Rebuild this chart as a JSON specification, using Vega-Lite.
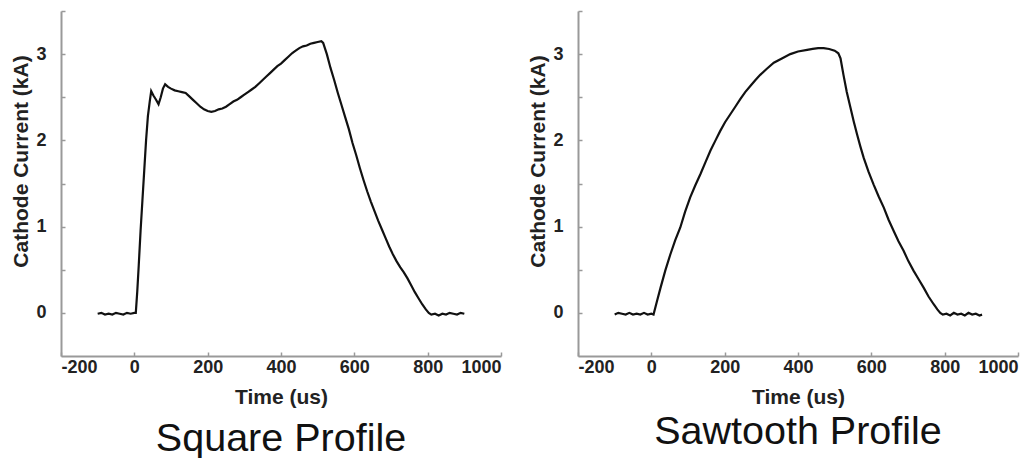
{
  "$schema": "https://vega.github.io/schema/vega-lite/v6.json",
  "background": "white",
  "padding": {"left": 10, "top": 10, "right": 5, "bottom": 0},
  "spacing": 77,
  "bounds": "flush",
  "config": {
    "view": {"stroke": null},
    "axis": {
      "grid": false,
      "domainColor": "#999999",
      "domainWidth": 2,
      "tickColor": "#999999",
      "tickWidth": 1.5,
      "tickSize": -4,
      "labelFont": "Liberation Sans",
      "labelFontWeight": "bold",
      "labelFontSize": 18,
      "labelColor": "#222222",
      "titleFont": "Liberation Sans",
      "titleFontWeight": "bold",
      "titleFontSize": 21,
      "titleColor": "#222222"
    },
    "axisX": {"labelPadding": 6, "titlePadding": 10},
    "axisY": {"labelPadding": 19, "titlePadding": 4}
  },
  "datasets": {
    "square": [
      {"t": -100, "i": -0.01}, {"t": -90, "i": 0.0}, {"t": -80, "i": -0.02}, {"t": -70, "i": -0.01},
      {"t": -60, "i": -0.02}, {"t": -50, "i": 0.0}, {"t": -40, "i": -0.01}, {"t": -30, "i": -0.02},
      {"t": -20, "i": 0.0}, {"t": -10, "i": -0.01}, {"t": 0, "i": 0.0}, {"t": 4, "i": 0.0},
      {"t": 8, "i": 0.25}, {"t": 12, "i": 0.55}, {"t": 17, "i": 0.95}, {"t": 22, "i": 1.3},
      {"t": 27, "i": 1.65}, {"t": 32, "i": 2.0}, {"t": 37, "i": 2.28}, {"t": 42, "i": 2.45},
      {"t": 46, "i": 2.57}, {"t": 52, "i": 2.52}, {"t": 58, "i": 2.48}, {"t": 66, "i": 2.42},
      {"t": 72, "i": 2.5}, {"t": 78, "i": 2.6}, {"t": 84, "i": 2.65}, {"t": 92, "i": 2.62},
      {"t": 100, "i": 2.6}, {"t": 110, "i": 2.58}, {"t": 120, "i": 2.57}, {"t": 130, "i": 2.56},
      {"t": 140, "i": 2.55}, {"t": 150, "i": 2.51}, {"t": 160, "i": 2.47}, {"t": 170, "i": 2.43},
      {"t": 180, "i": 2.39}, {"t": 190, "i": 2.36}, {"t": 200, "i": 2.34}, {"t": 210, "i": 2.33},
      {"t": 220, "i": 2.34}, {"t": 230, "i": 2.36}, {"t": 240, "i": 2.37}, {"t": 250, "i": 2.39},
      {"t": 260, "i": 2.42}, {"t": 270, "i": 2.45}, {"t": 280, "i": 2.47}, {"t": 290, "i": 2.5},
      {"t": 300, "i": 2.53}, {"t": 310, "i": 2.56}, {"t": 320, "i": 2.59}, {"t": 330, "i": 2.62},
      {"t": 340, "i": 2.66}, {"t": 350, "i": 2.7}, {"t": 360, "i": 2.74}, {"t": 370, "i": 2.78},
      {"t": 380, "i": 2.82}, {"t": 390, "i": 2.86}, {"t": 400, "i": 2.89}, {"t": 410, "i": 2.93},
      {"t": 420, "i": 2.97}, {"t": 430, "i": 3.01}, {"t": 440, "i": 3.04}, {"t": 450, "i": 3.07},
      {"t": 460, "i": 3.09}, {"t": 470, "i": 3.1}, {"t": 480, "i": 3.12}, {"t": 490, "i": 3.13},
      {"t": 500, "i": 3.14}, {"t": 510, "i": 3.15}, {"t": 515, "i": 3.13}, {"t": 525, "i": 3.0},
      {"t": 535, "i": 2.84}, {"t": 545, "i": 2.7}, {"t": 555, "i": 2.55}, {"t": 565, "i": 2.41},
      {"t": 575, "i": 2.27}, {"t": 585, "i": 2.13}, {"t": 595, "i": 1.97}, {"t": 605, "i": 1.83},
      {"t": 615, "i": 1.68}, {"t": 625, "i": 1.54}, {"t": 635, "i": 1.41}, {"t": 645, "i": 1.29},
      {"t": 655, "i": 1.18}, {"t": 665, "i": 1.07}, {"t": 675, "i": 0.97}, {"t": 685, "i": 0.87},
      {"t": 695, "i": 0.77}, {"t": 705, "i": 0.68}, {"t": 715, "i": 0.6}, {"t": 725, "i": 0.53},
      {"t": 735, "i": 0.47}, {"t": 745, "i": 0.4}, {"t": 755, "i": 0.32}, {"t": 765, "i": 0.24},
      {"t": 775, "i": 0.17}, {"t": 785, "i": 0.1}, {"t": 795, "i": 0.04}, {"t": 803, "i": 0.0},
      {"t": 810, "i": -0.02}, {"t": 820, "i": -0.01}, {"t": 830, "i": -0.03}, {"t": 840, "i": -0.01},
      {"t": 850, "i": -0.02}, {"t": 860, "i": 0.0}, {"t": 870, "i": -0.01}, {"t": 880, "i": -0.02},
      {"t": 890, "i": 0.0}, {"t": 900, "i": -0.01}
    ],
    "sawtooth": [
      {"t": -100, "i": -0.02}, {"t": -90, "i": 0.0}, {"t": -80, "i": -0.01}, {"t": -70, "i": -0.02},
      {"t": -60, "i": 0.0}, {"t": -50, "i": -0.02}, {"t": -40, "i": -0.01}, {"t": -30, "i": -0.02},
      {"t": -20, "i": 0.0}, {"t": -10, "i": -0.02}, {"t": 0, "i": -0.01}, {"t": 6, "i": -0.02},
      {"t": 15, "i": 0.13}, {"t": 25, "i": 0.29}, {"t": 38, "i": 0.49}, {"t": 52, "i": 0.68},
      {"t": 65, "i": 0.84}, {"t": 79, "i": 0.99}, {"t": 92, "i": 1.17}, {"t": 106, "i": 1.34},
      {"t": 120, "i": 1.48}, {"t": 134, "i": 1.61}, {"t": 148, "i": 1.75}, {"t": 161, "i": 1.88},
      {"t": 175, "i": 2.0}, {"t": 188, "i": 2.11}, {"t": 201, "i": 2.21}, {"t": 215, "i": 2.3},
      {"t": 229, "i": 2.39}, {"t": 243, "i": 2.48}, {"t": 256, "i": 2.56}, {"t": 270, "i": 2.63},
      {"t": 284, "i": 2.7}, {"t": 297, "i": 2.76}, {"t": 315, "i": 2.83}, {"t": 334, "i": 2.9},
      {"t": 356, "i": 2.95}, {"t": 379, "i": 3.0}, {"t": 400, "i": 3.03}, {"t": 425, "i": 3.05},
      {"t": 440, "i": 3.06}, {"t": 455, "i": 3.07}, {"t": 470, "i": 3.07}, {"t": 485, "i": 3.06},
      {"t": 500, "i": 3.04}, {"t": 510, "i": 3.01}, {"t": 516, "i": 2.95}, {"t": 524, "i": 2.76},
      {"t": 533, "i": 2.56}, {"t": 543, "i": 2.38}, {"t": 552, "i": 2.22}, {"t": 561, "i": 2.07},
      {"t": 570, "i": 1.93}, {"t": 579, "i": 1.8}, {"t": 592, "i": 1.64}, {"t": 606, "i": 1.49},
      {"t": 620, "i": 1.35}, {"t": 634, "i": 1.22}, {"t": 647, "i": 1.08}, {"t": 661, "i": 0.95},
      {"t": 674, "i": 0.83}, {"t": 688, "i": 0.72}, {"t": 701, "i": 0.6}, {"t": 715, "i": 0.49},
      {"t": 729, "i": 0.39}, {"t": 743, "i": 0.29}, {"t": 756, "i": 0.19}, {"t": 770, "i": 0.1},
      {"t": 780, "i": 0.04}, {"t": 788, "i": 0.0}, {"t": 795, "i": -0.02}, {"t": 805, "i": -0.01},
      {"t": 815, "i": -0.03}, {"t": 825, "i": 0.0}, {"t": 835, "i": -0.02}, {"t": 845, "i": -0.01},
      {"t": 855, "i": -0.03}, {"t": 865, "i": 0.0}, {"t": 875, "i": -0.02}, {"t": 885, "i": -0.01},
      {"t": 895, "i": -0.03}, {"t": 902, "i": -0.02}
    ]
  },
  "hconcat": [
    {
      "width": 440,
      "height": 345,
      "title": {"text": "Square Profile", "orient": "bottom", "font": "Liberation Sans", "fontSize": 39.5, "fontWeight": "normal", "color": "#111111", "offset": 13},
      "data": {"name": "square"},
      "mark": {"type": "line", "color": "#111111", "strokeWidth": 2.2},
      "encoding": {
        "x": {"field": "t", "type": "quantitative", "scale": {"domain": [-200, 1000], "nice": false, "zero": false},
          "axis": {"values": [-200, 0, 200, 400, 600, 800, 1000], "labelExpr": "datum.value + ''", "title": "Time (us)"}},
        "y": {"field": "i", "type": "quantitative", "scale": {"domain": [-0.5, 3.5], "nice": false, "zero": false},
          "axis": {"values": [0, 0.5, 1, 1.5, 2, 2.5, 3, 3.5], "labelExpr": "datum.value % 1 == 0 ? datum.value + '' : ''", "title": "Cathode Current (kA)", "titleY": 150}}
      }
    },
    {
      "width": 440,
      "height": 345,
      "title": {"text": "Sawtooth Profile", "orient": "bottom", "font": "Liberation Sans", "fontSize": 39.5, "fontWeight": "normal", "color": "#111111", "offset": 6},
      "data": {"name": "sawtooth"},
      "mark": {"type": "line", "color": "#111111", "strokeWidth": 2.2},
      "encoding": {
        "x": {"field": "t", "type": "quantitative", "scale": {"domain": [-200, 1000], "nice": false, "zero": false},
          "axis": {"values": [-200, 0, 200, 400, 600, 800, 1000], "labelExpr": "datum.value + ''", "title": "Time (us)"}},
        "y": {"field": "i", "type": "quantitative", "scale": {"domain": [-0.5, 3.5], "nice": false, "zero": false},
          "axis": {"values": [0, 0.5, 1, 1.5, 2, 2.5, 3, 3.5], "labelExpr": "datum.value % 1 == 0 ? datum.value + '' : ''", "title": "Cathode Current (kA)", "titleY": 150}}
      }
    }
  ]
}
